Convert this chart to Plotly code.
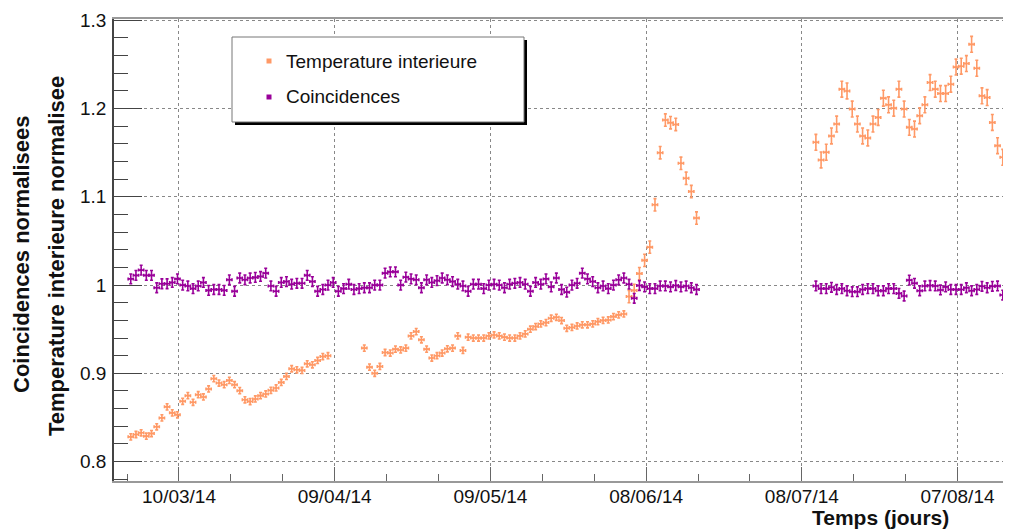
import pandas as pd
import plotly.graph_objects as go

# ---------------- data ----------------
START = "2014-02-28 17:00"          # centre of first daily bin
REF = "2014-03-10"                  # origin of the numeric time axis (days)
N_DAYS = 171

coinc_seg1 = [
    1.007, 1.011, 1.017, 1.011, 1.011, 0.997, 1.0015, 1.0015, 1.003, 1.007,
    1.000, 0.999, 0.996, 0.999, 1.003, 0.994, 0.995, 0.995, 0.994, 1.006,
    0.993, 1.008, 1.006, 1.008, 1.0087, 1.0098, 1.0135, 0.999, 0.993, 1.003,
    1.004, 1.001, 1.002, 1.002, 1.011, 1.004, 0.993, 0.995, 1.000, 1.003,
    0.993, 0.996, 1.001, 0.995, 0.996, 0.997, 0.997, 1.000, 1.000, 1.0135,
    1.015, 1.015, 1.000, 1.009, 1.007, 1.006, 0.997, 1.006, 1.003, 1.005,
    1.008, 1.006, 1.004, 1.001, 0.999, 0.993, 1.001, 1.001, 0.996, 1.000,
    1.001, 1.000, 0.997, 1.001, 1.002, 1.003, 1.001, 0.993, 1.003, 1.001,
    1.007, 0.998, 1.008, 0.995, 0.992, 1.000, 1.002, 1.0135, 1.007, 1.004,
    0.997, 0.999, 0.996, 1.000, 1.006, 1.008, 1.001, 0.985, 0.9995, 0.998,
    0.996, 0.996, 0.999, 0.999, 0.998, 0.9995, 0.998, 0.999, 0.997, 0.995,
]
coinc_seg2 = [
    0.999, 0.996, 0.996, 0.9975, 0.995, 0.996, 0.9936, 0.9925, 0.9925, 0.995,
    0.996, 0.996, 0.9936, 0.9936, 0.996, 0.996, 0.9906, 0.9876, 1.0056, 1.002,
    0.9936, 0.999, 0.9995, 0.999, 0.9945, 0.998, 0.995, 0.995, 0.995, 0.997,
    0.9936, 0.995, 0.9986, 0.997, 0.9986, 0.999, 0.9887, 0.990,
]

temp_seg1a = [
    0.828, 0.8307, 0.8326, 0.8288, 0.8318, 0.8394, 0.8495, 0.862, 0.8552, 0.853,
    0.8683, 0.8747, 0.8672, 0.8758, 0.8732, 0.8823, 0.894, 0.889, 0.8871, 0.892,
    0.8871, 0.8804, 0.870, 0.868, 0.871, 0.8747, 0.8766, 0.8807, 0.8834, 0.8897,
    0.8965, 0.9052, 0.904, 0.9033, 0.9108, 0.9097, 0.9146, 0.919, 0.920,
]
temp_seg1b = [
    0.9286, 0.907, 0.900, 0.9078, 0.9236, 0.923, 0.9274, 0.9265, 0.9286, 0.9424,
    0.9473, 0.938, 0.9274, 0.9173, 0.920, 0.923, 0.9278, 0.9286, 0.9424, 0.9259,
    0.941, 0.940, 0.940, 0.940, 0.9424, 0.9435, 0.9424, 0.941, 0.940, 0.940,
    0.9424, 0.9447, 0.950, 0.953, 0.956, 0.9575, 0.9624, 0.9635, 0.9598, 0.951,
    0.952, 0.9537, 0.955, 0.955, 0.956, 0.9586, 0.960, 0.9605, 0.9643, 0.9662,
    0.9673, 0.987, 0.994, 1.013, 1.028, 1.043, 1.091, 1.150, 1.187, 1.184,
    1.182, 1.138, 1.121, 1.106, 1.076,
]
temp_seg2 = [
    1.1618, 1.1418, 1.1505, 1.169, 1.1825, 1.222, 1.220, 1.1994, 1.1825, 1.169,
    1.1667, 1.1825, 1.190, 1.2118, 1.2043, 1.2005, 1.222, 1.1994, 1.1787, 1.1768,
    1.1919, 1.2043, 1.2295, 1.222, 1.217, 1.217, 1.2276, 1.247, 1.248, 1.251,
    1.2728, 1.2457, 1.2144, 1.2125, 1.1843, 1.158, 1.1448, 1.1354, 1.19,
]

coinc = coinc_seg1 + [None] * 22 + coinc_seg2 + [None]
temp = temp_seg1a + [None] * 6 + temp_seg1b + [None] * 22 + temp_seg2

coinc_err = [0.0055] * N_DAYS
temp_err = [0.0035] * 96 + [0.007] * 14 + [0.0] * 22 + [0.009] * 39

x_tick_vals = [0, 30, 60, 90, 120, 150]
x_tick_text = ["10/03/14", "09/04/14", "09/05/14", "08/06/14", "08/07/14", "07/08/14"]
y_tick_vals = [0.8, 0.9, 1.0, 1.1, 1.2, 1.3]
y_tick_text = ["0.8", "0.9", "1", "1.1", "1.2", "1.3"]

dates = pd.date_range(START, periods=N_DAYS, freq="D")
days = ((dates - pd.Timestamp(REF)) / pd.Timedelta(days=1)).tolist()

# ---------------- style ----------------
OFF = 8                      # page body margin of the html page
W, H = 1011 - OFF, 529 - OFF
L, R, T, B = 114 - OFF, 0, 19 - OFF, 48
ORANGE = "#ff9966"
PURPLE = "#990099"
FONT = "Liberation Sans, Arial, sans-serif"


def px(x):
    """window pixel x -> paper coordinate"""
    return (x - OFF - L) / (W - L - R)


def py(y):
    """window pixel y -> paper coordinate"""
    return (H - B - (y - OFF)) / (H - T - B)


fig = go.Figure()


def add_series(yvals, err, color, name):
    fig.add_trace(go.Scatter(
        x=days, y=yvals, mode="markers", name=name, showlegend=False,
        marker=dict(symbol="square", size=2, color=color),
        error_y=dict(type="data", array=err, visible=True, color=color,
                     thickness=1.6, width=1.5),
        error_x=dict(type="constant", value=0.5, visible=True, color=color,
                     thickness=1.6, width=1.5),
    ))


add_series(temp, temp_err, ORANGE, "Temperature interieure")
add_series(coinc, coinc_err, PURPLE, "Coincidences")

fig.update_layout(
    width=W, height=H,
    margin=dict(l=L, r=R, t=T, b=B),
    paper_bgcolor="white", plot_bgcolor="white",
    font=dict(family=FONT, size=19, color="#111"),
)

fig.update_xaxes(
    range=[-12.52, 160.3],
    tickmode="array", tickvals=x_tick_vals, ticktext=x_tick_text,
    ticks="inside", ticklen=14, tickwidth=1.2, tickcolor="#666",
    minor=dict(tickmode="linear", tick0=0, dtick=10, ticks="inside",
               ticklen=7, tickwidth=1.2, tickcolor="#666", showgrid=False),
    showgrid=True, gridcolor="#888", griddash="dot", gridwidth=1,
    showline=True, linecolor="#999", linewidth=2, mirror=True,
    zeroline=False, tickfont=dict(size=19, color="#111"),
    ticklabelstandoff=-3,
)
fig.update_yaxes(
    range=[0.778, 1.3015],
    tickmode="array", tickvals=y_tick_vals, ticktext=y_tick_text,
    ticks="inside", ticklen=28, tickwidth=1.2, tickcolor="#444",
    minor=dict(tickmode="linear", tick0=0.8, dtick=0.02, ticks="inside",
               ticklen=14, tickwidth=1.2, tickcolor="#444", showgrid=False),
    showgrid=True, gridcolor="#888", griddash="dot", gridwidth=1,
    showline=True, linecolor="#444", linewidth=1.5, mirror=False,
    zeroline=False, tickfont=dict(size=19, color="#111"),
    ticklabelstandoff=2,
)

# axis titles
fig.add_annotation(xref="paper", yref="paper", x=px(950), y=py(517),
                   xanchor="right", yanchor="middle", showarrow=False, borderpad=0,
                   text="<b>Temps (jours)</b>", font=dict(size=21, color="#111"))
fig.add_annotation(xref="paper", yref="paper", x=px(22), y=py(254),
                   xanchor="center", yanchor="middle", showarrow=False, textangle=-90,
                   text="<b>Coincidences normalisees</b>", font=dict(size=22, color="#111"))
fig.add_annotation(xref="paper", yref="paper", x=px(56), y=py(256),
                   xanchor="center", yanchor="middle", showarrow=False, textangle=-90,
                   text="<b>Temperature interieure normalisee</b>", font=dict(size=22, color="#111"))

# legend box (ROOT style with shadow)
fig.add_shape(type="rect", xref="paper", yref="paper",
              x0=px(235), x1=px(527), y0=py(40), y1=py(125),
              fillcolor="black", line=dict(width=0), layer="above")
fig.add_shape(type="rect", xref="paper", yref="paper",
              x0=px(232), x1=px(524), y0=py(37), y1=py(122),
              fillcolor="white", line=dict(color="#777", width=1), layer="above")
for yy, col, label in [(61, ORANGE, "Temperature interieure"), (97, PURPLE, "Coincidences")]:
    fig.add_shape(type="rect", xref="paper", yref="paper",
                  x0=px(266.5), x1=px(271.5), y0=py(yy - 2.5), y1=py(yy + 2.5),
                  fillcolor=col, line=dict(width=0), layer="above")
    fig.add_annotation(xref="paper", yref="paper", x=px(284), y=py(yy),
                       xanchor="left", yanchor="middle", showarrow=False,
                       text=label, font=dict(size=19, color="#111"))

fig.write_html("out.html")
